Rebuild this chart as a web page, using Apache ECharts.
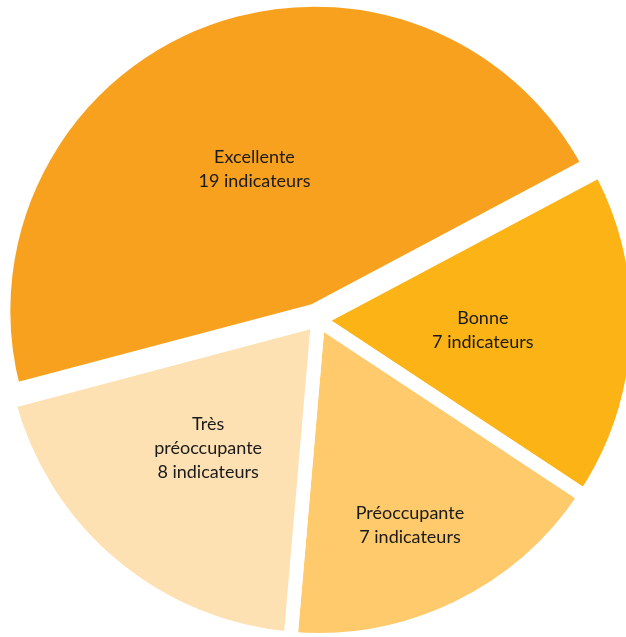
<!DOCTYPE html>
<html>
<head>
<meta charset="utf-8">
<script src="https://cdn.jsdelivr.net/npm/echarts@6/dist/echarts.min.js"></script>
<style>
  html, body { margin: 0; padding: 0; background: #ffffff; }
  #chart { width: 626px; height: 637px; }
</style>
</head>
<body>
<div id="chart"></div>
<script>
const categories = ['Bonne', 'Préoccupante', 'Très\npréoccupante', 'Excellente'];
const values = [7, 7, 8, 19];
const unitLabel = 'indicateurs';
const colors = ['#FBB316', '#FECA6C', '#FDE1B2', '#F8A11F'];
const explodedIndex = 3;
// label nudges (px) to match the reference's label placement
const labelShift = [[2, 2], [21, 58], [-5, 3], [-2, 6]];

const hidden = { color: 'rgba(0,0,0,0)', borderWidth: 0 };

function buildData(showExploded) {
  return categories.map((c, i) => {
    const visible = (i === explodedIndex) === showExploded;
    return {
      name: c,
      value: values[i],
      selected: showExploded && i === explodedIndex,
      itemStyle: visible ? { color: colors[i] } : hidden,
      select: { itemStyle: visible ? { color: colors[i], borderColor: '#ffffff', borderWidth: 14 } : hidden },
      label: { show: visible }
    };
  });
}

const common = {
  type: 'pie',
  center: [318, 320],
  startAngle: 28,
  clockwise: true,
  silent: true,
  itemStyle: { borderColor: '#ffffff', borderWidth: 14, borderJoin: 'miter' },
  label: {
    position: 'inside',
    formatter: p => p.name + '\n' + p.value + ' ' + unitLabel,
    color: '#1a1a1a',
    fontFamily: 'Lato',
    fontSize: 18,
    lineHeight: 24,
    align: 'center'
  },
  labelLayout: p => ({ dx: labelShift[p.dataIndex][0], dy: labelShift[p.dataIndex][1] }),
  labelLine: { show: false },
  emphasis: { disabled: true }
};

const chart = echarts.init(document.getElementById('chart'), null, { renderer: 'canvas' });
chart.setOption({
  animation: false,
  series: [
    Object.assign({}, common, { radius: 320, selectedMode: false, data: buildData(false) }),
    Object.assign({}, common, { radius: 311, selectedMode: 'single', selectedOffset: 10, data: buildData(true) })
  ]
});
</script>
</body>
</html>
